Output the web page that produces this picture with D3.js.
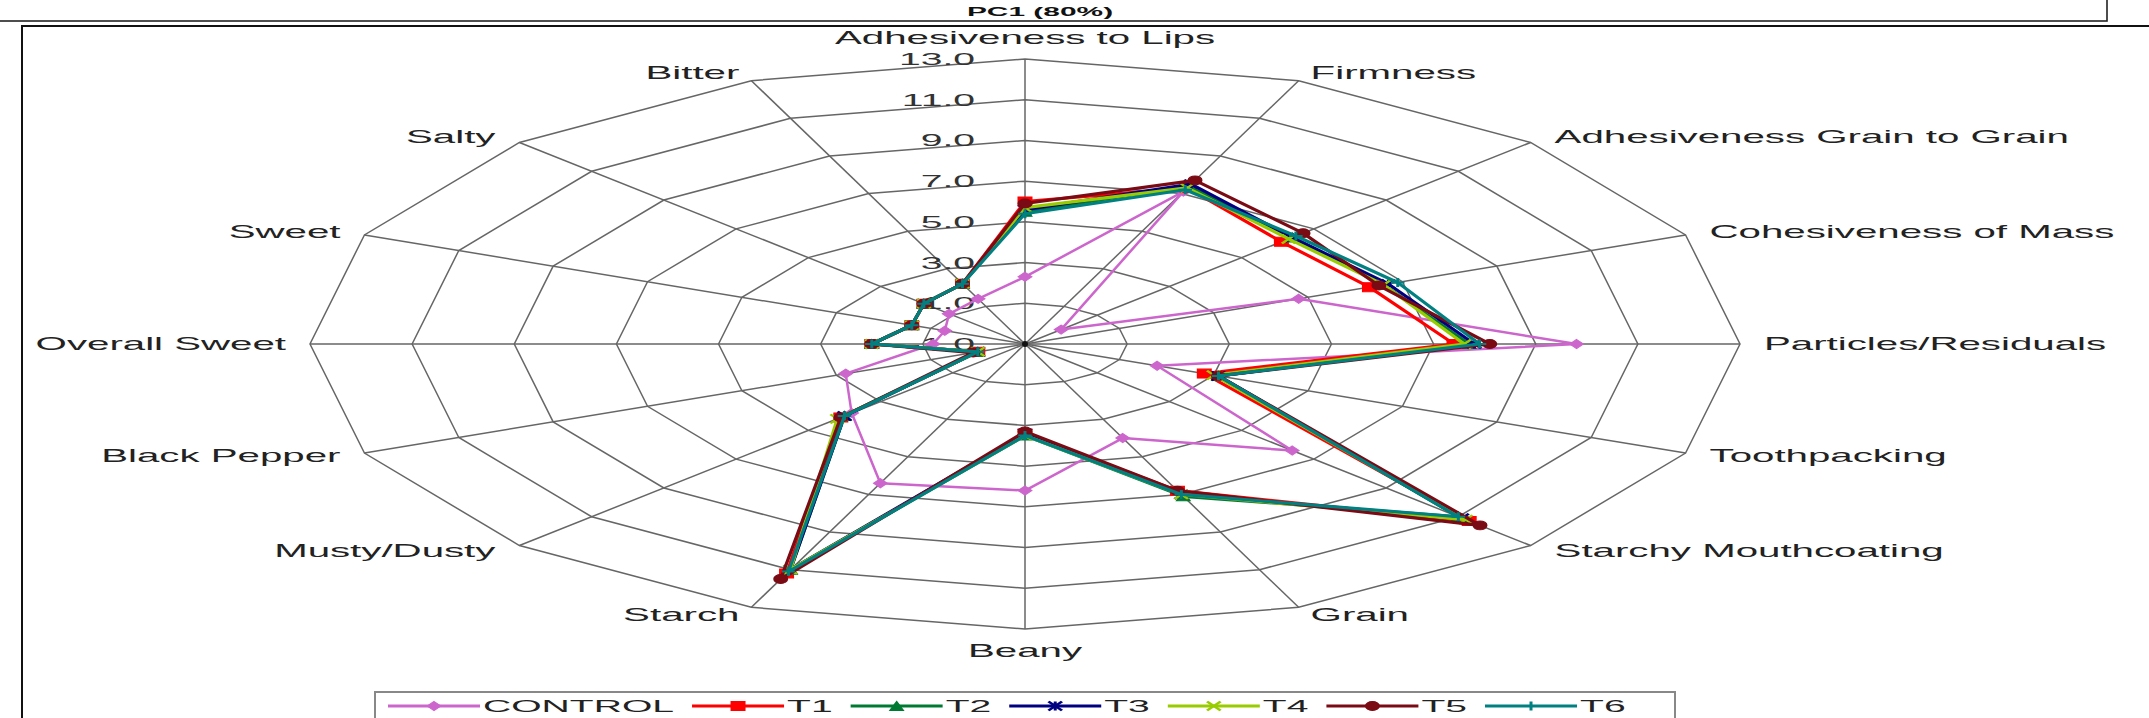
<!DOCTYPE html>
<html>
<head>
<meta charset="utf-8">
<script src="https://cdn.jsdelivr.net/npm/d3@7"></script>
<style>
  html, body { margin: 0; padding: 0; background: #fff; }
  svg { display: block; }
  text { font-family: "Liberation Sans", Arial, sans-serif; }
</style>
</head>
<body>
<svg id="chart" width="2149" height="718"></svg>
<script>
// ---------------- data ----------------
const title = "PC1 (80%)";
const categories = [
  "Adhesiveness to Lips", "Firmness", "Adhesiveness Grain to Grain", "Cohesiveness of Mass",
  "Particles/Residuals", "Toothpacking", "Starchy Mouthcoating", "Grain", "Beany", "Starch",
  "Musty/Dusty", "Black Pepper", "Overall Sweet", "Sweet", "Salty", "Bitter"
];
const tickValues = [-1, 1, 3, 5, 7, 9, 11, 13];
const tickLabels = ["-1.0", "1.0", "3.0", "5.0", "7.0", "9.0", "11.0", "13.0"];
const seriesNames = ["CONTROL", "T1", "T2", "T3", "T4", "T5", "T6"];
const CONTROL = [2.3, 7.1, 0.0, 4.8, 9.8, 1.8, 6.4, 4.0, 6.2, 6.4, 3.8, 2.8, 0.8, 0.7, 1.1, 1.4];
const T1 = [6.0, 7.3, 6.1, 6.3, 7.4, 2.8, 11.3, 6.8, 3.4, 11.2, 4.1, 0.0, 2.0, 1.4, 1.8, 2.2];
const T2 = [5.5, 7.4, 6.4, 6.6, 7.7, 3.1, 11.0, 7.1, 3.5, 11.0, 4.0, 0.0, 2.0, 1.4, 1.8, 2.2];
const T3 = [5.6, 7.5, 6.4, 6.7, 7.8, 3.1, 11.1, 7.0, 3.4, 11.0, 4.0, 0.0, 2.0, 1.4, 1.8, 2.2];
const T4 = [5.7, 7.3, 6.3, 6.6, 7.6, 3.0, 11.2, 7.0, 3.5, 11.0, 4.2, 0.0, 2.0, 1.4, 1.8, 2.2];
const T5 = [5.9, 7.7, 6.7, 6.5, 8.1, 3.1, 11.6, 6.8, 3.3, 11.5, 4.1, 0.1, 2.0, 1.4, 1.8, 2.2];
const T6 = [5.4, 7.2, 6.5, 6.9, 7.9, 3.1, 11.0, 7.0, 3.5, 11.1, 4.0, 0.0, 2.0, 1.4, 1.8, 2.2];
const seriesValues = [CONTROL, T1, T2, T3, T4, T5, T6];
const seriesColors = ["#CC66CC", "#FF0000", "#007A33", "#000080", "#99CC00", "#7A0A14", "#008080"];
const seriesMarkers = ["diamond", "square", "triangle", "star", "x", "circle", "plus"];

// ---------------- layout ----------------
const svg = d3.select("#chart");
const cx = 1025, cy = 344, rx = 715, ry = 285;
const SX = 2.3; // horizontal text stretch of the original picture
const r = d3.scaleLinear().domain([-1, 13]).range([0, 1]);
const ang = d3.scaleLinear().domain([0, categories.length]).range([0, 2 * Math.PI]);
const px = (i, v) => cx + rx * r(v) * Math.sin(ang(i));
const py = (i, v) => cy - ry * r(v) * Math.cos(ang(i));

// frames
svg.append("rect").attr("x", -2).attr("y", -2).attr("width", 2109).attr("height", 23)
  .attr("fill", "#fff").attr("stroke", "#222").attr("stroke-width", 1.6);
svg.append("text").attr("transform", `translate(1040,16) scale(${SX},1)`)
  .attr("text-anchor", "middle").attr("font-size", 13).attr("font-weight", "bold")
  .attr("fill", "#111").text(title);
svg.append("rect").attr("x", 22).attr("y", 26).attr("width", 2200).attr("height", 760)
  .attr("fill", "#fff").attr("stroke", "#111").attr("stroke-width", 2);

// grid rings
const idx = d3.range(categories.length);
const gridLine = d3.line().curve(d3.curveLinearClosed);
const g = svg.append("g");
tickValues.filter(t => t > -1).forEach(t => {
  g.append("path").attr("d", gridLine(idx.map(i => [px(i, t), py(i, t)])))
    .attr("fill", "none").attr("stroke", "#666").attr("stroke-width", 1.5);
});
// spokes
idx.forEach(i => {
  g.append("line").attr("x1", cx).attr("y1", cy)
    .attr("x2", px(i, 13)).attr("y2", py(i, 13))
    .attr("stroke", "#666").attr("stroke-width", 1.5);
});
g.append("circle").attr("cx", cx).attr("cy", cy).attr("r", 3).attr("fill", "#111");

// tick labels
tickValues.forEach((t, k) => {
  svg.append("text")
    .attr("transform", `translate(975,${py(0, t) + 6}) scale(${SX},1)`)
    .attr("text-anchor", "end").attr("font-size", 17).attr("fill", "#333")
    .text(tickLabels[k]);
});

// category labels
idx.forEach(i => {
  const a = ang(i), s = Math.sin(a), c = Math.cos(a);
  let x = px(i, 13), y = py(i, 13), anchor;
  if (Math.abs(s) < 1e-6) {
    anchor = "middle";
    y += c > 0 ? -21 : 22;
  } else {
    anchor = s > 0 ? "start" : "end";
    const gap = Math.abs(c) > 0.9 ? 12 : 24;
    x += s > 0 ? gap : -gap;
    y -= c * 8;
  }
  svg.append("text")
    .attr("transform", `translate(${x},${y + 6}) scale(${SX},1)`)
    .attr("text-anchor", anchor).attr("font-size", 17.5).attr("fill", "#222")
    .text(categories[i]);
});

// marker generator
function markerPath(type, size) {
  const h = size / 2;
  switch (type) {
    case "diamond": return `M0,${-h}L${h},0L0,${h}L${-h},0Z`;
    case "square": return `M${-h},${-h}H${h}V${h}H${-h}Z`;
    case "triangle": return `M0,${-h}L${h},${h}H${-h}Z`;
    case "circle": return d3.symbol(d3.symbolCircle, size * size * 0.78)();
    case "star": return `M${-h},${-h}L${h},${h}M${h},${-h}L${-h},${h}M0,${-h}V${h}`;
    case "x": return `M${-h},${-h}L${h},${h}M${h},${-h}L${-h},${h}`;
    case "plus": return `M${-h},0H${h}M0,${-h}V${h}`;
  }
}
function drawMarker(sel, type, color, x, y, size) {
  const filled = ["diamond", "square", "triangle", "circle"].includes(type);
  sel.append("path").attr("d", markerPath(type, size))
    .attr("transform", `translate(${x},${y}) scale(1.5,1)`)
    .attr("fill", filled ? color : "none")
    .attr("stroke", color).attr("stroke-width", filled ? 1 : 2);
}

// series
const dataG = svg.append("g");
seriesValues.forEach((vals, k) => {
  const pts = vals.map((v, i) => [px(i, v), py(i, v)]);
  dataG.append("path").attr("d", gridLine(pts))
    .attr("fill", "none").attr("stroke", seriesColors[k])
    .attr("stroke-width", k === 0 ? 2.5 : 3.2).attr("stroke-linejoin", "round");
  pts.forEach(p => drawMarker(dataG, seriesMarkers[k], seriesColors[k], p[0], p[1], 9));
});

// legend
const legG = svg.append("g");
legG.append("rect").attr("x", 375).attr("y", 692).attr("width", 1300).attr("height", 40)
  .attr("fill", "#fff").attr("stroke", "#888").attr("stroke-width", 2);
let lx = 388;
seriesNames.forEach((name, k) => {
  const ly = 706;
  legG.append("line").attr("x1", lx).attr("x2", lx + 92).attr("y1", ly).attr("y2", ly)
    .attr("stroke", seriesColors[k]).attr("stroke-width", 3);
  drawMarker(legG, seriesMarkers[k], seriesColors[k], lx + 46, ly, 9);
  const t = legG.append("text")
    .attr("transform", `translate(${lx + 95},${ly + 6}) scale(${SX},1)`)
    .attr("font-size", 17).attr("fill", "#222").text(name);
  const w = t.node().getComputedTextLength() * SX;
  lx += 95 + w + 18;
});
</script>
</body>
</html>
